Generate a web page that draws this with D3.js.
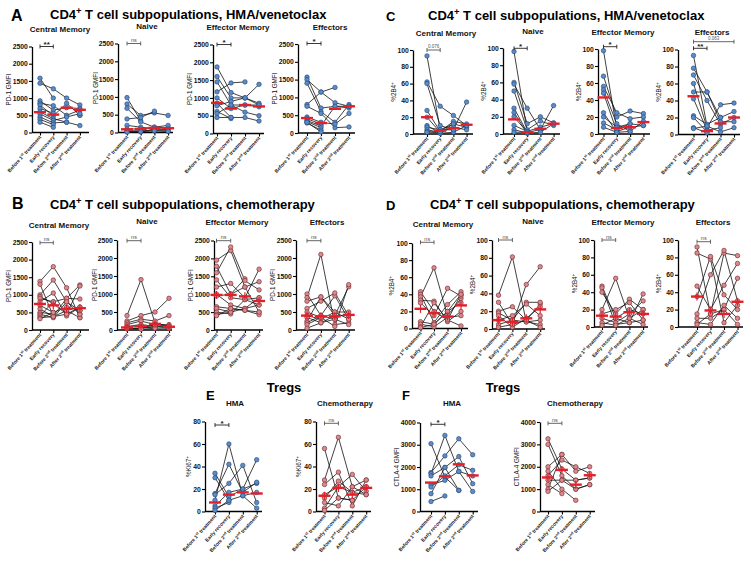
<!DOCTYPE html>
<html><head><meta charset="utf-8">
<script src="https://cdn.jsdelivr.net/npm/d3@7"></script>
<style>body{margin:0;background:#fff}svg{display:block;font-family:Arial,"Liberation Sans",sans-serif}</style>
</head><body><svg id="c" width="751" height="564"></svg>
<script>
const categories = ["Before 1^st treatment","Early recovery","Before 2^nd treatment","After 2^nd treatment"];
const gmfiTicks = [0,500,1000,1500,2000,2500];
const pctTicks = [0,20,40,60,80,100];
const ki67Ticks = [0,20,40,60,80];
const ctlaTicks = [0,1000,2000,3000,4000];

// A: PD-1 GMFI, HMA/venetoclax
const A_CM = [[1580,1000,null,500],[1430,1270,1000,800],[920,650,720,700],[850,780,500,650],[800,480,850,500],[700,560,null,null],[600,400,300,200],[540,350,450,550],[450,280,300,null],[380,230,null,null],[300,150,null,null]];
const A_CM_med = [590,520,720,660];
const A_NV = [[980,330,null,null],[800,480,550,480],[680,300,150,130],[380,420,600,null],[200,150,100,80],[100,100,150,200],[50,50,50,50],[30,20,100,100],[10,20,50,30]];
const A_NV_med = [90,100,130,120];
const A_EM = [[1870,1150,1000,800],[1600,1000,1000,850],[1450,800,600,500],[1170,1420,1450,null],[1000,700,800,750],[850,450,450,350],[780,900,1000,1380],[620,420,null,null],[560,800,800,800],[450,450,null,null]];
const A_EM_med = [860,700,800,760];
const A_EF = [[1570,700,750,700],[1500,1150,1280,null],[1400,600,300,800],[800,1150,850,750],[750,550,150,170],[450,300,250,550],[400,250,null,null],[350,200,750,750],[320,150,null,null],[280,80,null,null],[300,30,null,null]];
const A_EF_med = [420,280,680,750];

// B: PD-1 GMFI, chemotherapy
const B_CM = [[1380,1800,1200,350],[1300,400,900,1280],[1000,1420,800,450],[950,750,450,1250],[900,800,900,880],[800,1050,400,650],[700,500,650,550],[600,380,550,350],[500,450,null,450],[450,350,800,550],[400,800,null,null],[350,380,450,650],[320,500,null,null]];
const B_CM_med = [740,700,600,620];
const B_NV = [[400,1400,200,100],[250,400,500,880],[200,300,250,400],[150,250,150,150],[100,150,100,100],[80,100,50,50],[50,50,100,50],[30,50,150,100],[60,20,50,null]];
const B_NV_med = [70,110,170,90];
const B_EM = [[1950,2220,1200,500],[1780,1000,1430,null],[1600,2320,1380,1120],[1400,900,850,700],[1200,1300,900,1700],[1000,700,600,900],[950,1000,1200,1350],[650,600,550,430],[600,500,600,700],[500,450,850,900],[430,500,null,null],[400,600,550,500]];
const B_EM_med = [980,980,940,810];
const B_EF = [[1000,400,950,300],[900,2100,150,200],[800,920,400,1200],[600,800,1030,400],[500,350,100,1260],[400,300,500,500],[350,200,300,150],[250,920,500,300],[200,400,300,null],[150,350,null,null],[50,200,400,400]];
const B_EF_med = [400,380,380,420];

// C: %2B4+, HMA/venetoclax
const C_CM = [[93,5,12,8],[62,33,22,10],[60,10,5,38],[28,3,15,12],[20,2,8,5],[10,1,2,10],[8,5,5,null],[5,2,12,null],[3,1,null,null],[2,3,null,null]];
const C_CM_med = [20,4,7,11];
const C_NV = [[96,3,8,12],[60,12,20,13],[58,30,5,33],[50,5,15,10],[30,2,5,null],[25,1,2,12],[20,2,null,null],[10,3,null,null],[5,1,null,null],[2,2,null,null]];
const C_NV_med = [17,2,6,12];
const C_EM = [[98,5,12,10],[68,20,27,24],[56,25,18,20],[52,12,3,15],[48,3,8,10],[25,2,3,null],[20,8,12,null],[13,5,null,null],[8,2,null,null]];
const C_EM_med = [43,7,8,14];
const C_EF = [[93,10,3,8],[78,50,20,27],[70,40,12,20],[60,8,35,37],[50,50,15,15],[42,5,8,null],[22,12,20,null],[20,3,null,null],[8,2,null,null],[7,10,null,null]];
const C_EF_med = [45,4,13,20];

// D: %2B4+, chemotherapy
const D_CM = [[43,20,10,40],[40,7,28,43],[37,71,15,35],[33,32,8,20],[30,15,47,38],[8,5,20,30],[5,2,13,15],[2,30,10,3],[1,5,20,40]];
const D_CM_med = [23,18,14,27];
const D_NV = [[38,81,8,10],[30,5,50,70],[20,25,10,28],[18,10,30,30],[15,2,12,25],[10,15,28,15],[5,10,8,5],[2,5,10,2]];
const D_NV_med = [10,8,12,22];
const D_EM = [[47,10,20,15],[45,3,5,38],[40,15,32,20],[20,56,10,3],[15,20,28,8],[10,5,15,30],[5,2,10,20],[2,10,5,8]];
const D_EM_med = [13,12,17,15];
const D_EF = [[92,15,85,82],[85,78,5,25],[47,20,48,73],[35,81,37,20],[15,60,88,30],[10,10,20,56],[5,3,25,10],[3,15,20,3]];
const D_EF_med = [35,19,15,29];

// E: Tregs %Ki67+
const E_HMA = [[34,13,20,25],[30,10,14,3],[16,42,17,26],[15,25,41,8],[10,60,14,17],[5,17,20,46],[3,8,null,null],[1,10,null,null]];
const E_HMA_med = [8,15,17,16];
const E_CH = [[56,12,10,22],[28,66,22,15],[24,35,5,28],[15,22,33,18],[12,27,17,22],[8,5,22,28],[3,22,17,15],[1,12,10,null]];
const E_CH_med = [14,21,15,21];

// F: Tregs CTLA-4 GMFI
const F_HMA = [[3050,1550,950,null],[1750,2500,3270,2550],[1700,3420,1800,900],[1600,1980,2470,1250],[1200,1400,1800,1600],[1100,1600,2100,1850],[800,1980,950,null],[450,700,null,null]];
const F_HMA_med = [1300,1580,2120,1620];
const F_CH = [[3250,1900,1400,1500],[3000,1600,1000,1200],[2000,2550,1800,2000],[1800,1000,500,null],[1600,2300,2000,1700],[1400,1400,1400,1500],[1200,800,null,null],[1000,2550,null,null],[900,1400,1000,1200]];
const F_CH_med = [1520,1860,1200,1620];

const svg = d3.select("#c");
const COL = {
  blue: {fill:"#5b8bc9", stroke:"#22446f"},
  red: {fill:"#d98a8d", stroke:"#6e2229"}
};

function rich(textSel, str, fs) {
  const parts = str.split(/\^(\S+)/);
  parts.forEach((p, i) => {
    if (p === "") return;
    const isSup = i % 2 === 1;
    const t = textSel.append("tspan").text(p);
    if (isSup) { t.attr("font-size", fs*0.72).attr("dy", -fs*0.38); }
    else if (i > 0) { t.attr("dy", fs*0.38); }
  });
}

function panel(p) {
  const maxV = p.t[p.t.length-1];
  const y = d3.scaleLinear().domain([0, maxV]).range([p.bottom, p.top]);
  const x = d3.scalePoint().domain(categories).range([p.c0, p.c0 + 3*p.step]);
  const g = svg.append("g");
  const c = COL[p.col];

  // y axis
  const ya = g.append("g").attr("transform", `translate(${p.ax},0)`)
    .call(d3.axisLeft(y).tickValues(p.t).tickFormat(d3.format("d")).tickSize(3).tickSizeOuter(0).tickPadding(1.2));
  ya.select(".domain").attr("stroke", "#000").attr("stroke-width", 1.3);
  ya.selectAll(".tick line").attr("stroke", "#000").attr("stroke-width", 1.1);
  ya.selectAll(".tick text").attr("font-size", 6.8).attr("font-weight", "bold").attr("fill", "#111").attr("font-family", "Arial, 'Liberation Sans', sans-serif");

  // x axis
  const xa = g.append("g").attr("transform", `translate(0,${p.bottom})`)
    .call(d3.axisBottom(x).tickSize(3).tickSizeOuter(0));
  xa.select(".domain").remove();
  xa.selectAll(".tick text").remove();
  xa.selectAll(".tick line").attr("stroke", "#000").attr("stroke-width", 1.1);
  g.append("line").attr("x1", p.ax).attr("x2", p.xEnd).attr("y1", p.bottom).attr("y2", p.bottom)
    .attr("stroke", "#000").attr("stroke-width", 1.3);

  categories.forEach(cat => {
    const t = g.append("text")
      .attr("transform", `translate(${x(cat)+1.5},${p.bottom+5}) rotate(-48)`)
      .attr("text-anchor", "end").attr("font-size", 5).attr("font-weight", "bold").attr("fill", "#222");
    rich(t, cat, 5);
  });

  // y label
  const yl = g.append("text")
    .attr("transform", `translate(${p.ylx},${(p.top+p.bottom)/2}) rotate(-90)`)
    .attr("text-anchor", "middle").attr("font-size", 6.3).attr("fill", "#111");
  rich(yl, p.yl, 6.3);

  // subtitle
  g.append("text").attr("x", p.sx).attr("y", p.sy).attr("text-anchor", "middle")
    .attr("font-size", 8).attr("font-weight", "bold").attr("fill", "#111").text(p.sub);

  // subject lines
  const line = d3.line().defined(d => d != null).x((d, i) => x(categories[i])).y(d => y(d));
  g.append("g").selectAll("path").data(p.d).join("path")
    .attr("d", s => line(s)).attr("fill", "none").attr("stroke", "#111").attr("stroke-width", 0.8);

  // points
  const pts = [];
  p.d.forEach(s => s.forEach((v, i) => { if (v != null) pts.push([i, v]); }));
  g.append("g").selectAll("circle").data(pts).join("circle")
    .attr("cx", d => x(categories[d[0]])).attr("cy", d => y(d[1])).attr("r", 2.25)
    .attr("fill", c.fill).attr("stroke", c.stroke).attr("stroke-width", 0.6);

  // medians
  const mg = g.append("g");
  p.m.forEach((v, i) => {
    const cx = x(categories[i]);
    mg.append("line").attr("x1", cx-6).attr("x2", cx+6).attr("y1", y(v)).attr("y2", y(v))
      .attr("stroke", "#e3202a").attr("stroke-width", 2.4);
    if (p.col === "red") {
      mg.append("line").attr("x1", cx).attr("x2", cx).attr("y1", y(v)-4).attr("y2", y(v)+4)
        .attr("stroke", "#e3202a").attr("stroke-width", 1.2);
    }
  });

  // significance brackets
  (p.sig || []).forEach(([lab, a, b, by]) => {
    const x1 = x(categories[a]), x2 = x(categories[b]);
    const isNum = /\d/.test(lab), isNs = lab === "ns";
    const colr = (isNum || isNs) ? "#555" : "#222";
    g.append("path").attr("d", `M${x1},${by-2}V${by+2}M${x1},${by}H${x2}M${x2},${by-2}V${by+2}`)
      .attr("stroke", colr).attr("stroke-width", 0.9).attr("fill", "none");
    g.append("text").attr("x", (x1+x2)/2).attr("y", isNum ? by-1.8 : (isNs ? by-1.5 : by+0.5))
      .attr("text-anchor", "middle").attr("fill", colr)
      .attr("font-size", isNum ? 4.5 : (isNs ? 5.5 : 8)).attr("font-weight", isNum || isNs ? "normal" : "bold")
      .text(lab);
  });
}

const gm = "PD-1 GMFI", pc = "%2B4^+";
const panels = [
  {d:A_CM,m:A_CM_med,t:gmfiTicks,yl:gm,col:"blue",ax:32,top:46.5,bottom:132.5,c0:40,step:13.3,xEnd:89,ylx:11,sub:"Central Memory",sx:60,sy:32,sig:[["**",0,1,46.5]]},
  {d:A_NV,m:A_NV_med,t:gmfiTicks,yl:gm,col:"blue",ax:118,top:43.5,bottom:132.5,c0:127,step:13.7,xEnd:173,ylx:98,sub:"Naive",sx:147,sy:29,sig:[["ns",0,1,43.5]]},
  {d:A_EM,m:A_EM_med,t:gmfiTicks,yl:gm,col:"blue",ax:213,top:44.5,bottom:133.5,c0:217,step:14,xEnd:264,ylx:192,sub:"Effector Memory",sx:238,sy:30,sig:[["*",0,1,44.5]]},
  {d:A_EF,m:A_EF_med,t:gmfiTicks,yl:gm,col:"blue",ax:298,top:44,bottom:133,c0:307,step:14,xEnd:355,ylx:277,sub:"Effectors",sx:330,sy:30,sig:[["*",0,1,43.5]]},
  {d:C_CM,m:C_CM_med,t:pctTicks,yl:pc,col:"blue",ax:413,top:50,bottom:134,c0:427,step:13.2,xEnd:473,ylx:396,sub:"Central Memory",sx:446,sy:36,sig:[["0.076",0,1,50]]},
  {d:C_NV,m:C_NV_med,t:pctTicks,yl:pc,col:"blue",ax:503,top:48,bottom:134,c0:514,step:13.2,xEnd:560,ylx:486,sub:"Naive",sx:533,sy:34,sig:[["*",0,1,48.3]]},
  {d:C_EM,m:C_EM_med,t:pctTicks,yl:pc,col:"blue",ax:598,top:49,bottom:134,c0:603.5,step:13.3,xEnd:650,ylx:581,sub:"Effector Memory",sx:623,sy:35,sig:[["*",0,1,46.7]]},
  {d:C_EF,m:C_EF_med,t:pctTicks,yl:pc,col:"blue",ax:678,top:49.5,bottom:134.5,c0:693.5,step:13.5,xEnd:740,ylx:661,sub:"Effectors",sx:712,sy:34.5,sig:[["**",0,1,48.3],["0.063",0,3,41.7]]},
  {d:B_CM,m:B_CM_med,t:gmfiTicks,yl:gm,col:"red",ax:32,top:242,bottom:330,c0:40,step:13.3,xEnd:89,ylx:11,sub:"Central Memory",sx:59,sy:228,sig:[["ns",0,1,242.7]]},
  {d:B_NV,m:B_NV_med,t:gmfiTicks,yl:gm,col:"red",ax:117,top:240,bottom:330,c0:127,step:14,xEnd:172,ylx:97,sub:"Naive",sx:147,sy:224,sig:[["ns",0,1,240.7]]},
  {d:B_EM,m:B_EM_med,t:gmfiTicks,yl:gm,col:"red",ax:214,top:240.5,bottom:330,c0:216.5,step:14.2,xEnd:263,ylx:193,sub:"Effector Memory",sx:237,sy:225,sig:[["ns",0,1,240.7]]},
  {d:B_EF,m:B_EF_med,t:gmfiTicks,yl:gm,col:"red",ax:296,top:240,bottom:330,c0:307,step:13.9,xEnd:355,ylx:275,sub:"Effectors",sx:327,sy:225,sig:[["ns",0,1,240.7]]},
  {d:D_CM,m:D_CM_med,t:pctTicks,yl:pc,col:"red",ax:412,top:243,bottom:328.5,c0:420.5,step:13.5,xEnd:468,ylx:394,sub:"Central Memory",sx:443,sy:227,sig:[["ns",0,1,242.3]]},
  {d:D_NV,m:D_NV_med,t:pctTicks,yl:pc,col:"red",ax:492,top:240,bottom:329,c0:498.5,step:13.9,xEnd:545,ylx:475,sub:"Naive",sx:533,sy:224,sig:[["ns",0,1,240]]},
  {d:D_EM,m:D_EM_med,t:pctTicks,yl:pc,col:"red",ax:594,top:240,bottom:327,c0:602,step:13.7,xEnd:648,ylx:577,sub:"Effector Memory",sx:623,sy:225,sig:[["ns",0,1,240]]},
  {d:D_EF,m:D_EF_med,t:pctTicks,yl:pc,col:"red",ax:678,top:240,bottom:327,c0:697,step:13.5,xEnd:743,ylx:661,sub:"Effectors",sx:713,sy:225,sig:[["ns",0,1,241.7]]},
  {d:E_HMA,m:E_HMA_med,t:ki67Ticks,yl:"%Ki67^+",col:"blue",ax:205,top:421.5,bottom:511.5,c0:215,step:13.9,xEnd:262,ylx:191,sub:"HMA",sx:235,sy:406,sig:[["*",0,1,425]]},
  {d:E_CH,m:E_CH_med,t:ki67Ticks,yl:"%Ki67^+",col:"red",ax:316,top:421.5,bottom:511.5,c0:324.5,step:13.9,xEnd:371,ylx:301,sub:"Chemotherapy",sx:345,sy:406,sig:[["ns",0,1,423.3]]},
  {d:F_HMA,m:F_HMA_med,t:ctlaTicks,yl:"CTLA-4 GMFI",col:"blue",ax:420,top:422.5,bottom:511.5,c0:431,step:13.9,xEnd:478,ylx:399,sub:"HMA",sx:452,sy:406,sig:[["*",0,1,424.3]]},
  {d:F_CH,m:F_CH_med,t:ctlaTicks,yl:"CTLA-4 GMFI",col:"red",ax:540,top:422,bottom:511.5,c0:548,step:13.9,xEnd:595,ylx:519,sub:"Chemotherapy",sx:575,sy:406,sig:[["ns",0,1,423.3]]}
];
panels.forEach(panel);

// titles
function title(x, y, str, fs, anchor) {
  const t = svg.append("text").attr("x", x).attr("y", y).attr("font-size", fs).attr("font-weight", "bold")
    .attr("fill", "#000").attr("text-anchor", anchor || "start");
  rich(t, str, fs);
}
title(50, 19, "CD4^+ T cell subpopulations, HMA/venetoclax", 13);
title(50, 209, "CD4^+ T cell subpopulations, chemotherapy", 13);
title(428, 20, "CD4^+ T cell subpopulations, HMA/venetoclax", 13);
title(430, 209, "CD4^+ T cell subpopulations, chemotherapy", 13);
title(284, 392, "Tregs", 13, "middle");
title(503, 392, "Tregs", 13, "middle");
title(11, 21, "A", 16);
title(12, 209, "B", 16);
title(386, 21, "C", 13);
title(386, 210, "D", 13);
title(206, 400, "E", 13);
title(402, 400, "F", 13);
</script></body></html>
